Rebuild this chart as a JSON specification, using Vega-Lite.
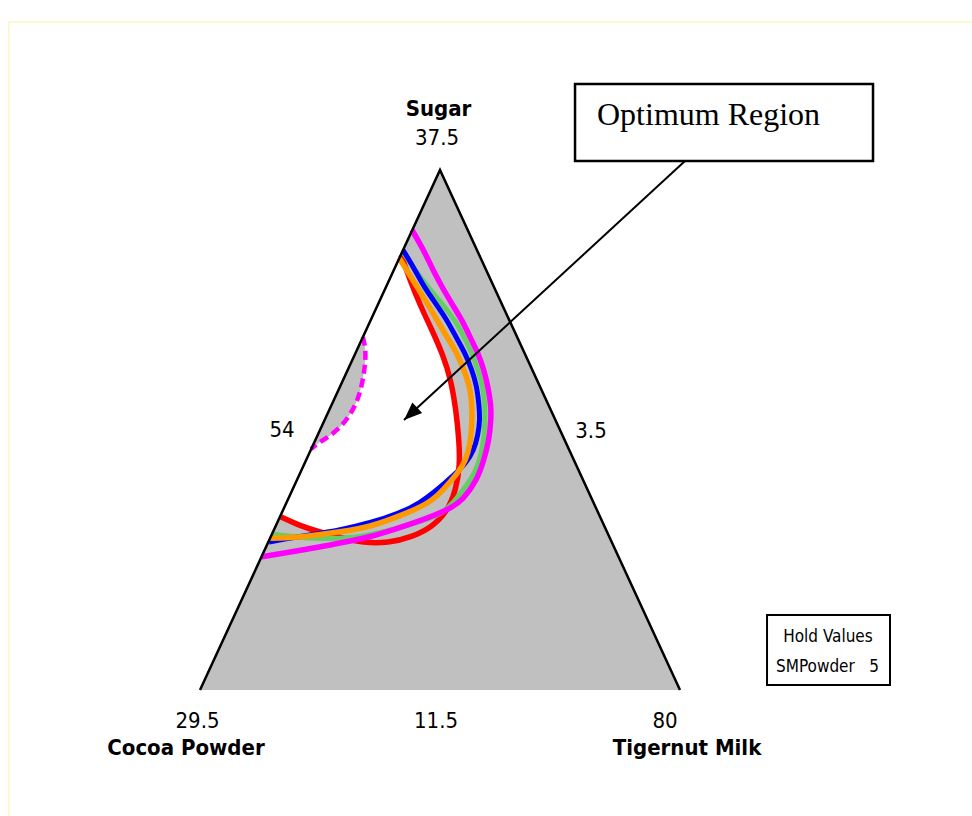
{
  "$schema": "https://vega.github.io/schema/vega-lite/v6.json",
  "width": 972,
  "height": 816,
  "autosize": {"type": "none"},
  "padding": 0,
  "background": "white",
  "config": {"view": {"stroke": null}},
  "datasets": {
    "polys": [
      {"p": "tri", "i": 0, "x": 0, "y": 0},
      {"p": "tri", "i": 1, "x": 50, "y": 100},
      {"p": "tri", "i": 2, "x": 100, "y": 0},
      {"p": "white", "i": 0, "x": 41.85, "y": 83.7},
      {"p": "white", "i": 1, "x": 43.75, "y": 78.85},
      {"p": "white", "i": 2, "x": 45.83, "y": 74.04},
      {"p": "white", "i": 3, "x": 48.33, "y": 69.23},
      {"p": "white", "i": 4, "x": 50.63, "y": 64.42},
      {"p": "white", "i": 5, "x": 52.29, "y": 59.62},
      {"p": "white", "i": 6, "x": 53.33, "y": 53.85},
      {"p": "white", "i": 7, "x": 53.96, "y": 48.08},
      {"p": "white", "i": 8, "x": 54.1, "y": 44.5},
      {"p": "white", "i": 9, "x": 54.0, "y": 42.5},
      {"p": "white", "i": 10, "x": 53.13, "y": 41.54},
      {"p": "white", "i": 11, "x": 49.38, "y": 38.46},
      {"p": "white", "i": 12, "x": 45.83, "y": 35.96},
      {"p": "white", "i": 13, "x": 41.67, "y": 34.04},
      {"p": "white", "i": 14, "x": 35.42, "y": 32.12},
      {"p": "white", "i": 15, "x": 29.17, "y": 30.77},
      {"p": "white", "i": 16, "x": 25.6, "y": 30.2},
      {"p": "white", "i": 17, "x": 20.42, "y": 31.73},
      {"p": "white", "i": 18, "x": 16.6, "y": 33.2},
      {"p": "lune", "i": 0, "x": 33.94, "y": 67.88},
      {"p": "lune", "i": 1, "x": 34.58, "y": 65.38},
      {"p": "lune", "i": 2, "x": 34.38, "y": 62.5},
      {"p": "lune", "i": 3, "x": 33.96, "y": 59.62},
      {"p": "lune", "i": 4, "x": 32.92, "y": 55.77},
      {"p": "lune", "i": 5, "x": 31.25, "y": 52.88},
      {"p": "lune", "i": 6, "x": 29.17, "y": 50.38},
      {"p": "lune", "i": 7, "x": 26.46, "y": 48.46},
      {"p": "lune", "i": 8, "x": 24.58, "y": 47.5},
      {"p": "lune", "i": 9, "x": 23.17, "y": 46.35}
    ],
    "curves": [
      {"c": "red", "i": 0, "x": 41.88, "y": 83.65},
      {"c": "red", "i": 1, "x": 43.75, "y": 78.85},
      {"c": "red", "i": 2, "x": 45.83, "y": 74.04},
      {"c": "red", "i": 3, "x": 48.33, "y": 69.23},
      {"c": "red", "i": 4, "x": 50.63, "y": 64.42},
      {"c": "red", "i": 5, "x": 52.29, "y": 59.62},
      {"c": "red", "i": 6, "x": 53.33, "y": 53.85},
      {"c": "red", "i": 7, "x": 53.96, "y": 48.08},
      {"c": "red", "i": 8, "x": 54.17, "y": 43.27},
      {"c": "red", "i": 9, "x": 53.33, "y": 38.46},
      {"c": "red", "i": 10, "x": 51.46, "y": 34.23},
      {"c": "red", "i": 11, "x": 48.33, "y": 31.35},
      {"c": "red", "i": 12, "x": 44.17, "y": 29.42},
      {"c": "red", "i": 13, "x": 39.17, "y": 28.27},
      {"c": "red", "i": 14, "x": 34.17, "y": 28.27},
      {"c": "red", "i": 15, "x": 28.75, "y": 29.42},
      {"c": "red", "i": 16, "x": 24.17, "y": 30.58},
      {"c": "red", "i": 17, "x": 20.42, "y": 31.73},
      {"c": "red", "i": 18, "x": 16.88, "y": 33.27},
      {"c": "green", "i": 0, "x": 42.29, "y": 84.23},
      {"c": "green", "i": 1, "x": 44.79, "y": 80.77},
      {"c": "green", "i": 2, "x": 47.5, "y": 77.5},
      {"c": "green", "i": 3, "x": 50.42, "y": 74.23},
      {"c": "green", "i": 4, "x": 53.13, "y": 71.15},
      {"c": "green", "i": 5, "x": 55.0, "y": 67.88},
      {"c": "green", "i": 6, "x": 56.67, "y": 64.81},
      {"c": "green", "i": 7, "x": 57.92, "y": 61.54},
      {"c": "green", "i": 8, "x": 58.96, "y": 58.27},
      {"c": "green", "i": 9, "x": 59.38, "y": 54.81},
      {"c": "green", "i": 10, "x": 59.38, "y": 50.96},
      {"c": "green", "i": 11, "x": 58.96, "y": 47.12},
      {"c": "green", "i": 12, "x": 58.13, "y": 43.65},
      {"c": "green", "i": 13, "x": 56.67, "y": 40.77},
      {"c": "green", "i": 14, "x": 54.79, "y": 38.46},
      {"c": "green", "i": 15, "x": 52.71, "y": 35.96},
      {"c": "green", "i": 16, "x": 50.63, "y": 34.04},
      {"c": "green", "i": 17, "x": 46.88, "y": 32.69},
      {"c": "green", "i": 18, "x": 42.29, "y": 31.35},
      {"c": "green", "i": 19, "x": 37.08, "y": 30.19},
      {"c": "green", "i": 20, "x": 31.88, "y": 29.23},
      {"c": "green", "i": 21, "x": 25.0, "y": 29.04},
      {"c": "green", "i": 22, "x": 19.79, "y": 29.42},
      {"c": "green", "i": 23, "x": 15.0, "y": 30.0},
      {"c": "blue", "i": 0, "x": 42.29, "y": 84.62},
      {"c": "blue", "i": 1, "x": 44.58, "y": 81.15},
      {"c": "blue", "i": 2, "x": 46.67, "y": 77.5},
      {"c": "blue", "i": 3, "x": 49.17, "y": 74.23},
      {"c": "blue", "i": 4, "x": 51.46, "y": 71.15},
      {"c": "blue", "i": 5, "x": 53.33, "y": 67.88},
      {"c": "blue", "i": 6, "x": 55.21, "y": 64.81},
      {"c": "blue", "i": 7, "x": 56.67, "y": 61.54},
      {"c": "blue", "i": 8, "x": 57.71, "y": 58.27},
      {"c": "blue", "i": 9, "x": 58.13, "y": 54.81},
      {"c": "blue", "i": 10, "x": 58.33, "y": 51.92},
      {"c": "blue", "i": 11, "x": 57.92, "y": 49.04},
      {"c": "blue", "i": 12, "x": 57.08, "y": 46.15},
      {"c": "blue", "i": 13, "x": 55.42, "y": 43.65},
      {"c": "blue", "i": 14, "x": 53.13, "y": 41.54},
      {"c": "blue", "i": 15, "x": 49.38, "y": 38.46},
      {"c": "blue", "i": 16, "x": 45.83, "y": 35.96},
      {"c": "blue", "i": 17, "x": 41.67, "y": 34.04},
      {"c": "blue", "i": 18, "x": 35.42, "y": 32.12},
      {"c": "blue", "i": 19, "x": 29.17, "y": 30.77},
      {"c": "blue", "i": 20, "x": 22.92, "y": 29.81},
      {"c": "blue", "i": 21, "x": 17.71, "y": 29.04},
      {"c": "blue", "i": 22, "x": 14.38, "y": 28.46},
      {"c": "orange", "i": 0, "x": 41.46, "y": 83.08},
      {"c": "orange", "i": 1, "x": 43.33, "y": 80.38},
      {"c": "orange", "i": 2, "x": 45.21, "y": 77.5},
      {"c": "orange", "i": 3, "x": 47.29, "y": 74.42},
      {"c": "orange", "i": 4, "x": 49.38, "y": 71.15},
      {"c": "orange", "i": 5, "x": 51.46, "y": 67.88},
      {"c": "orange", "i": 6, "x": 53.54, "y": 64.81},
      {"c": "orange", "i": 7, "x": 55.0, "y": 61.54},
      {"c": "orange", "i": 8, "x": 56.25, "y": 58.27},
      {"c": "orange", "i": 9, "x": 56.67, "y": 54.81},
      {"c": "orange", "i": 10, "x": 56.67, "y": 50.96},
      {"c": "orange", "i": 11, "x": 56.25, "y": 47.12},
      {"c": "orange", "i": 12, "x": 55.42, "y": 44.23},
      {"c": "orange", "i": 13, "x": 53.75, "y": 41.73},
      {"c": "orange", "i": 14, "x": 50.63, "y": 38.46},
      {"c": "orange", "i": 15, "x": 47.92, "y": 35.96},
      {"c": "orange", "i": 16, "x": 41.67, "y": 33.46},
      {"c": "orange", "i": 17, "x": 35.42, "y": 31.35},
      {"c": "orange", "i": 18, "x": 29.17, "y": 30.38},
      {"c": "orange", "i": 19, "x": 22.92, "y": 29.62},
      {"c": "orange", "i": 20, "x": 17.71, "y": 29.23},
      {"c": "orange", "i": 21, "x": 14.6, "y": 29.2},
      {"c": "magenta", "i": 0, "x": 44.17, "y": 88.46},
      {"c": "magenta", "i": 1, "x": 45.63, "y": 86.15},
      {"c": "magenta", "i": 2, "x": 46.88, "y": 84.04},
      {"c": "magenta", "i": 3, "x": 48.54, "y": 80.77},
      {"c": "magenta", "i": 4, "x": 50.42, "y": 77.5},
      {"c": "magenta", "i": 5, "x": 52.5, "y": 74.23},
      {"c": "magenta", "i": 6, "x": 54.58, "y": 71.15},
      {"c": "magenta", "i": 7, "x": 56.25, "y": 67.88},
      {"c": "magenta", "i": 8, "x": 57.92, "y": 64.81},
      {"c": "magenta", "i": 9, "x": 59.17, "y": 61.54},
      {"c": "magenta", "i": 10, "x": 60.0, "y": 58.27},
      {"c": "magenta", "i": 11, "x": 60.63, "y": 54.81},
      {"c": "magenta", "i": 12, "x": 60.63, "y": 51.92},
      {"c": "magenta", "i": 13, "x": 60.21, "y": 48.08},
      {"c": "magenta", "i": 14, "x": 59.17, "y": 44.23},
      {"c": "magenta", "i": 15, "x": 57.71, "y": 40.38},
      {"c": "magenta", "i": 16, "x": 54.79, "y": 36.54},
      {"c": "magenta", "i": 17, "x": 52.08, "y": 34.81},
      {"c": "magenta", "i": 18, "x": 45.83, "y": 32.5},
      {"c": "magenta", "i": 19, "x": 40.63, "y": 30.96},
      {"c": "magenta", "i": 20, "x": 35.42, "y": 29.42},
      {"c": "magenta", "i": 21, "x": 30.21, "y": 28.46},
      {"c": "magenta", "i": 22, "x": 25.0, "y": 27.5},
      {"c": "magenta", "i": 23, "x": 18.75, "y": 26.54},
      {"c": "magenta", "i": 24, "x": 12.85, "y": 25.6}
    ],
    "boxes": [
      {"b": "frame", "x": -39.79, "y": 128.5, "x2": 162, "y2": -25},
      {"b": "opt", "x": 78.13, "y": 116.54, "x2": 140.21, "y2": 101.73},
      {"b": "hold", "x": 118.13, "y": 14.42, "x2": 143.75, "y2": 0.96}
    ],
    "arrow": [
      {"x": 101.04, "y": 101.73, "x2": 42.5, "y2": 51.92}
    ],
    "nums": [
      {"t": "37.5", "x": 49.38, "y": 104.8},
      {"t": "54", "x": 17.08, "y": 48.6},
      {"t": "3.5", "x": 81.46, "y": 48.4},
      {"t": "29.5", "x": -0.52, "y": -7.3},
      {"t": "11.5", "x": 49.17, "y": -7.3},
      {"t": "80", "x": 96.88, "y": -7.3}
    ],
    "names": [
      {"t": "Sugar", "x": 49.69, "y": 110.4},
      {"t": "Cocoa Powder", "x": -2.92, "y": -12.5},
      {"t": "Tigernut Milk", "x": 101.46, "y": -12.5}
    ],
    "holdc": [
      {"t": "Hold Values", "x": 130.83, "y": 9.2},
      {"t": "5", "x": 140.42, "y": 3.4}
    ],
    "holdl": [
      {"t": "SMPowder", "x": 120, "y": 3.4}
    ],
    "opttext": [
      {"t": "Optimum Region", "x": 82.71, "y": 108.65}
    ]
  },
  "encoding": {
    "x": {"field": "x", "type": "quantitative", "scale": {"domain": [-41.6667, 160.8333], "nice": false, "zero": false}, "axis": null},
    "y": {"field": "y", "type": "quantitative", "scale": {"domain": [-24.2308, 132.6923], "nice": false, "zero": false}, "axis": null}
  },
  "layer": [
    {
      "data": {"name": "boxes"},
      "transform": [{"filter": "datum.b === 'frame'"}],
      "mark": {"type": "rect", "fill": null, "stroke": "#fbf6c6", "strokeWidth": 1.5},
      "encoding": {"x2": {"field": "x2"}, "y2": {"field": "y2"}}
    },
    {
      "data": {"name": "polys"},
      "transform": [{"filter": "datum.p === 'tri'"}],
      "mark": {"type": "line", "fill": "#c0c0c0", "strokeWidth": 0, "interpolate": "linear"},
      "encoding": {"order": {"field": "i", "type": "quantitative"}}
    },
    {
      "data": {"name": "polys"},
      "transform": [{"filter": "datum.p === 'white'"}],
      "mark": {"type": "line", "fill": "#ffffff", "strokeWidth": 0, "interpolate": "basis"},
      "encoding": {"order": {"field": "i", "type": "quantitative"}}
    },
    {
      "data": {"name": "polys"},
      "transform": [{"filter": "datum.p === 'lune'"}],
      "mark": {"type": "line", "fill": "#c0c0c0", "strokeWidth": 0, "interpolate": "basis"},
      "encoding": {"order": {"field": "i", "type": "quantitative"}}
    },
    {
      "data": {"name": "polys"},
      "transform": [{"filter": "datum.p === 'lune'"}],
      "mark": {"type": "line", "color": "#ff00ff", "strokeWidth": 4.5, "strokeDash": [9, 5], "interpolate": "basis"},
      "encoding": {"order": {"field": "i", "type": "quantitative"}}
    },
    {
      "data": {"name": "curves"},
      "transform": [{"filter": "datum.c === 'red'"}],
      "mark": {"type": "line", "color": "#ff0000", "strokeWidth": 5.5, "interpolate": "basis"},
      "encoding": {"order": {"field": "i", "type": "quantitative"}}
    },
    {
      "data": {"name": "curves"},
      "transform": [{"filter": "datum.c === 'green'"}],
      "mark": {"type": "line", "color": "#66cc66", "strokeWidth": 5, "interpolate": "basis"},
      "encoding": {"order": {"field": "i", "type": "quantitative"}}
    },
    {
      "data": {"name": "curves"},
      "transform": [{"filter": "datum.c === 'blue'"}],
      "mark": {"type": "line", "color": "#0000ff", "strokeWidth": 5, "interpolate": "basis"},
      "encoding": {"order": {"field": "i", "type": "quantitative"}}
    },
    {
      "data": {"name": "curves"},
      "transform": [{"filter": "datum.c === 'orange'"}],
      "mark": {"type": "line", "color": "#ff9900", "strokeWidth": 5.5, "interpolate": "basis"},
      "encoding": {"order": {"field": "i", "type": "quantitative"}}
    },
    {
      "data": {"name": "curves"},
      "transform": [{"filter": "datum.c === 'magenta'"}],
      "mark": {"type": "line", "color": "#ff00ff", "strokeWidth": 5.5, "interpolate": "basis"},
      "encoding": {"order": {"field": "i", "type": "quantitative"}}
    },
    {
      "data": {"name": "polys"},
      "transform": [{"filter": "datum.p === 'tri'"}],
      "mark": {"type": "line", "color": "#000000", "strokeWidth": 2.5, "interpolate": "linear"},
      "encoding": {"order": {"field": "i", "type": "quantitative"}}
    },
    {
      "data": {"name": "boxes"},
      "transform": [{"filter": "datum.b === 'opt'"}],
      "mark": {"type": "rect", "fill": "#ffffff", "stroke": "#000000", "strokeWidth": 2.5},
      "encoding": {"x2": {"field": "x2"}, "y2": {"field": "y2"}}
    },
    {
      "data": {"name": "boxes"},
      "transform": [{"filter": "datum.b === 'hold'"}],
      "mark": {"type": "rect", "fill": "#ffffff", "stroke": "#000000", "strokeWidth": 2},
      "encoding": {"x2": {"field": "x2"}, "y2": {"field": "y2"}}
    },
    {
      "data": {"name": "arrow"},
      "mark": {"type": "rule", "color": "#000000", "strokeWidth": 2},
      "encoding": {"x2": {"field": "x2"}, "y2": {"field": "y2"}}
    },
    {
      "data": {"name": "arrow"},
      "mark": {"type": "point", "shape": "M0,0L-0.4,1L0.4,1Z", "filled": true, "color": "#000000", "opacity": 1, "size": 1300, "angle": 227.3},
      "encoding": {"x": {"field": "x2", "type": "quantitative"}, "y": {"field": "y2", "type": "quantitative"}}
    },
    {
      "data": {"name": "nums"},
      "mark": {"type": "text", "font": "DejaVu Sans Condensed, DejaVu Sans, sans-serif", "fontSize": 22, "align": "center", "baseline": "alphabetic", "color": "#000000"},
      "encoding": {"text": {"field": "t"}}
    },
    {
      "data": {"name": "names"},
      "mark": {"type": "text", "font": "DejaVu Sans Condensed, DejaVu Sans, sans-serif", "fontSize": 22, "fontWeight": "bold", "align": "center", "baseline": "alphabetic", "color": "#000000"},
      "encoding": {"text": {"field": "t"}}
    },
    {
      "data": {"name": "holdc"},
      "mark": {"type": "text", "font": "DejaVu Sans Condensed, DejaVu Sans, sans-serif", "fontSize": 17, "align": "center", "baseline": "alphabetic", "color": "#000000"},
      "encoding": {"text": {"field": "t"}}
    },
    {
      "data": {"name": "holdl"},
      "mark": {"type": "text", "font": "DejaVu Sans Condensed, DejaVu Sans, sans-serif", "fontSize": 17, "align": "left", "baseline": "alphabetic", "color": "#000000"},
      "encoding": {"text": {"field": "t"}}
    },
    {
      "data": {"name": "opttext"},
      "mark": {"type": "text", "font": "Liberation Serif, Times New Roman, serif", "fontSize": 32, "align": "left", "baseline": "alphabetic", "color": "#000000"},
      "encoding": {"text": {"field": "t"}}
    }
  ]
}
